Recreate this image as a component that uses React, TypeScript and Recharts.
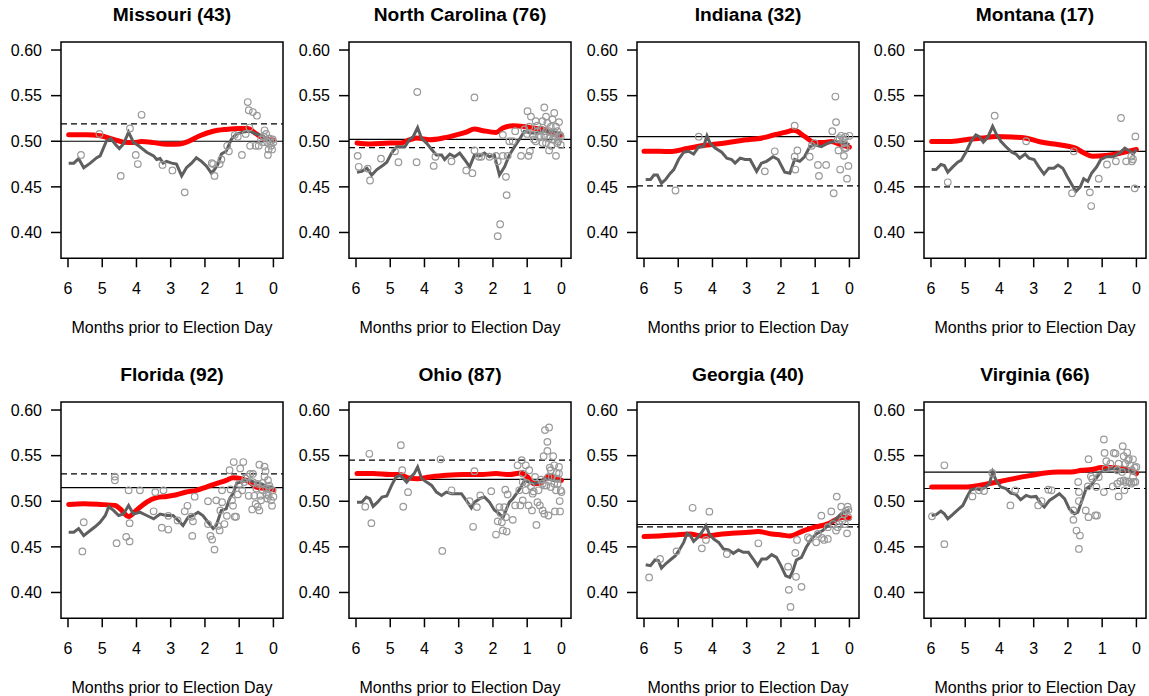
import { ComposedChart, Scatter, Line, XAxis, YAxis, ReferenceLine, ReferenceArea } from "recharts"

// months before election day, vote share
const X_TICKS = [0, 1, 2, 3, 4, 5, 6]
const Y_TICKS = [0.4, 0.45, 0.5, 0.55, 0.6]
const X_DOMAIN: [number, number] = [-0.28, 6.204]
const Y_DOMAIN: [number, number] = [0.3717, 0.6088]
const X_LABEL = "Months prior to Election Day"

const TITLES = [
  "Missouri (43)", "North Carolina (76)", "Indiana (32)", "Montana (17)",
  "Florida (92)", "Ohio (87)", "Georgia (40)", "Virginia (66)",
]
const SOLID = [0.5, 0.502, 0.505, 0.489, 0.515, 0.524, 0.4745, 0.532]
const DASHED = [0.519, 0.493, 0.451, 0.45, 0.53, 0.545, 0.472, 0.514]

const moPolls = [
  [5.62, .485], [5.08, .508], [4.46, .462], [4.19, .514], [4.02, .485], [3.96, .475], [3.85, .529], [3.24, .474],
  [2.95, .468], [2.59, .444], [1.76, .475], [1.72, .462], [1.8, .476], [1.57, .475], [1.52, .48], [1.35, .495],
  [1.3, .489], [1.13, .507], [1.04, .505], [0.92, .485], [0.81, .508], [0.75, .543], [0.72, .534], [0.7, .515],
  [0.68, .495], [0.6, .532], [0.52, .495], [0.48, .528], [0.43, .495], [0.36, .502], [0.31, .499], [0.26, .512],
  [0.21, .508], [0.18, .499], [0.16, .485], [0.14, .491], [0.12, .503], [0.09, .5], [0.07, .495], [0.04, .491],
  [0.02, .502], [0, .499], [0.28, .505],
]
const moTrend = [
  [5.98, .476], [5.83, .476], [5.69, .481], [5.54, .471], [5.35, .476], [5.16, .482], [5.06, .484], [4.88, .5],
  [4.75, .503], [4.6, .496], [4.5, .492], [4.38, .497], [4.23, .51], [4.09, .499], [3.94, .495], [3.7, .488],
  [3.5, .484], [3.41, .48], [3.31, .481], [3.22, .476], [3.12, .478], [2.97, .476], [2.83, .475], [2.68, .462],
  [2.54, .471], [2.39, .476], [2.25, .482], [2.1, .478], [1.96, .473], [1.81, .465], [1.72, .469], [1.62, .475],
  [1.52, .486], [1.38, .489], [1.23, .502], [1.09, .508], [0.89, .51], [0.7, .511], [0.5, .508], [0.31, .506],
  [0.16, .502], [0.07, .5], [0, .502],
]
const moForecast = [
  [5.98, .507], [5.45, .507], [5.06, .506], [4.67, .502], [4.38, .499], [4.09, .4985], [3.85, .4996], [3.5, .4985],
  [3.12, .4967], [2.73, .497], [2.54, .499], [2.15, .506], [1.76, .511], [1.38, .513], [0.99, .514], [0.75, .514],
  [0.5, .508], [0.26, .503], [0, .5015],
]

const ncPolls = [
  [5.95, .484], [5.92, .472], [5.66, .47], [5.59, .457], [5.27, .481], [4.86, .489], [4.76, .477], [4.21, .554],
  [4.23, .477], [3.73, .473], [3.68, .483], [3.21, .478], [2.78, .468], [2.6, .465], [2.54, .548], [2.54, .49],
  [2.41, .483], [2.34, .483], [2.1, .483], [1.91, .484], [1.86, .478], [1.86, .396], [1.79, .409], [1.71, .484],
  [1.71, .507], [1.62, .461], [1.6, .441], [1.57, .484], [1.52, .5], [1.42, .5], [1.35, .511], [1.18, .484],
  [1.08, .513], [0.99, .533], [0.96, .484], [0.94, .516], [0.92, .489], [0.89, .527], [0.84, .507], [0.8, .502],
  [0.75, .522], [0.75, .5], [0.7, .517], [0.7, .511], [0.65, .505], [0.6, .513], [0.55, .498], [0.55, .522],
  [0.5, .537], [0.5, .506], [0.45, .498], [0.45, .511], [0.45, .527], [0.41, .52], [0.36, .49], [0.36, .511],
  [0.36, .503], [0.31, .516], [0.26, .524], [0.26, .502], [0.21, .531], [0.21, .502], [0.21, .51], [0.16, .484],
  [0.16, .516], [0.16, .505], [0.12, .511], [0.12, .498], [0.07, .521], [0.05, .507], [0.02, .496], [0.02, .505],
  [0.1, .5], [0.3, .495], [0.6, .505], [1.0, .508],
]
const ncTrend = [
  [5.97, .466], [5.83, .467], [5.68, .4705], [5.54, .463], [5.39, .469], [5.2, .474], [5.1, .477], [4.96, .487],
  [4.81, .494], [4.57, .494], [4.44, .502], [4.33, .505], [4.2, .515], [4.09, .5035], [3.94, .498], [3.79, .491],
  [3.65, .485], [3.5, .485], [3.41, .48], [3.26, .486], [3.12, .483], [2.97, .487], [2.83, .48], [2.68, .472],
  [2.54, .485], [2.39, .484], [2.25, .487], [2.1, .483], [1.96, .485], [1.81, .463], [1.66, .472], [1.52, .485],
  [1.37, .494], [1.23, .502], [1.08, .511], [0.89, .509], [0.7, .509], [0.5, .511], [0.26, .511], [0.12, .509],
  [0, .507],
]
const ncForecast = [
  [5.97, .498], [5.59, .497], [5.0, .498], [4.71, .498], [4.42, .5017], [4.23, .5035], [3.84, .5017], [3.46, .5035],
  [3.07, .507], [2.78, .51], [2.54, .5134], [2.29, .5116], [1.91, .5097], [1.71, .5145], [1.42, .517], [1.13, .5163],
  [0.84, .5145], [0.55, .5134], [0.26, .509], [0, .5068],
]

const inPolls = [
  [5.08, .446], [4.4, .505], [2.47, .467], [2.18, .489], [1.6, .517], [1.6, .483], [1.58, .469], [1.52, .49],
  [1.16, .483], [1.1, .495], [0.92, .474], [0.89, .462], [0.68, .474], [0.5, .511], [0.46, .443], [0.41, .549],
  [0.39, .521], [0.32, .49], [0.27, .469], [0.24, .506], [0.16, .484], [0.15, .498], [0.12, .505], [0.07, .459],
  [0.03, .473], [0, .506], [0.1, .4925], [0.19, .502], [1.02, .498], [0.29, .5035], [0.15, .4925], [0.34, .502],
]
const inTrend = [
  [5.95, .458], [5.81, .458], [5.71, .463], [5.61, .463], [5.49, .454], [5.37, .458], [5.23, .465], [5.13, .469],
  [4.99, .48], [4.84, .488], [4.7, .489], [4.55, .486], [4.4, .494], [4.26, .494], [4.16, .506], [4.07, .498],
  [3.92, .4925], [3.73, .488], [3.58, .4815], [3.44, .48], [3.34, .476], [3.19, .4815], [3.05, .48], [2.9, .48],
  [2.71, .467], [2.57, .476], [2.42, .478], [2.23, .483], [2.08, .48], [1.89, .466], [1.74, .465], [1.6, .48],
  [1.45, .478], [1.31, .483], [1.16, .494], [1.02, .496], [0.82, .494], [0.63, .498], [0.44, .5], [0.24, .499],
  [0.1, .498], [0, .496],
]
const inForecast = [
  [6.0, .489], [5.56, .489], [5.18, .4888], [4.79, .4917], [4.4, .4946], [4.02, .4963], [3.63, .498], [3.15, .5009],
  [2.76, .5024], [2.47, .5042], [2.18, .5072], [1.89, .5097], [1.62, .512], [1.31, .5053], [1.02, .4987], [0.73, .4987],
  [0.53, .4998], [0.24, .4961], [0, .4936],
]

const mtPolls = [
  [5.51, .455], [4.14, .528], [3.22, .5], [1.88, .443], [1.83, .489], [1.36, .444], [1.32, .429], [1.1, .459],
  [0.86, .4745], [0.6, .478], [0.45, .5255], [0.3, .478], [0.13, .478], [0.1, .4804], [0.05, .4484], [0.03, .5053],
  [0.15, .4833],
]
const mtTrend = [
  [5.98, .469], [5.85, .469], [5.71, .4745], [5.61, .4734], [5.51, .466], [5.37, .4716], [5.22, .477], [5.12, .479],
  [4.98, .488], [4.83, .5], [4.69, .507], [4.59, .505], [4.47, .499], [4.34, .5046], [4.2, .5163], [4.08, .507],
  [3.96, .5], [3.81, .494], [3.64, .488], [3.52, .486], [3.41, .4815], [3.25, .486], [3.14, .4815], [2.99, .48],
  [2.85, .472], [2.7, .464], [2.56, .4705], [2.41, .4705], [2.29, .474], [2.15, .4705], [2.03, .462], [1.88, .452],
  [1.77, .445], [1.64, .45], [1.54, .459], [1.42, .456], [1.31, .465], [1.16, .472], [1.04, .48], [0.87, .483],
  [0.68, .483], [0.49, .487], [0.34, .4925], [0.19, .489], [0.1, .486], [0, .491],
]
const mtForecast = [
  [5.98, .4998], [5.47, .4998], [4.98, .5017], [4.5, .5035], [4.11, .5053], [3.63, .5046], [3.24, .5035], [2.85, .4998],
  [2.46, .4972], [2.07, .495], [1.78, .4925], [1.54, .4873], [1.29, .4836], [0.9, .4844], [0.51, .4866], [0.22, .4892],
  [0, .491],
]

const flPolls = [
  [5.54, .477], [5.58, .445], [4.63, .527], [4.63, .523], [4.58, .454], [4.3, .461], [4.23, .512], [4.2, .476],
  [4.2, .456], [3.9, .512], [3.5, .489], [3.45, .51], [3.21, .512], [3.26, .471], [3.07, .469], [3.07, .484],
  [2.8, .479], [2.59, .489], [2.51, .495], [2.37, .462], [2.35, .478], [2.3, .505], [2.39, .483], [1.91, .5],
  [1.91, .475], [1.84, .462], [1.79, .458], [1.72, .447], [1.67, .501], [1.62, .473], [1.57, .468], [1.55, .49],
  [1.5, .512], [1.5, .499], [1.43, .475], [1.36, .484], [1.28, .534], [1.25, .513], [1.21, .501], [1.18, .495],
  [1.16, .543], [1.13, .483], [1.09, .483], [1.04, .5075], [0.97, .536], [0.91, .512], [0.88, .543], [0.82, .525],
  [0.75, .527], [0.72, .506], [0.68, .53], [0.62, .491], [0.56, .506], [0.52, .497], [0.5, .514], [0.46, .494],
  [0.41, .54], [0.41, .49], [0.38, .506], [0.31, .52], [0.26, .538], [0.23, .533], [0.21, .514], [0.18, .503],
  [0.16, .523], [0.14, .506], [0.1, .514], [0.07, .501], [0.04, .495], [0.02, .512], [0, .505], [0.6, .521],
  [0.31, .512], [0.26, .527], [0.46, .519], [0.85, .521], [1.0, .519], [0.21, .508], [0.36, .501], [0.12, .517],
  [0.6, .53],
]
const flTrend = [
  [5.98, .466], [5.83, .466], [5.69, .47], [5.54, .4624], [5.35, .468], [5.2, .4723], [5.06, .477], [4.91, .4844],
  [4.81, .494], [4.67, .49], [4.52, .4844], [4.38, .486], [4.23, .4954], [4.09, .486], [3.9, .488], [3.7, .4844],
  [3.5, .4807], [3.31, .486], [3.12, .4844], [2.93, .4844], [2.73, .477], [2.64, .4734], [2.49, .4826], [2.35, .4844],
  [2.2, .488], [2.06, .4844], [1.91, .477], [1.76, .47], [1.67, .4734], [1.52, .49], [1.38, .4917], [1.28, .5028],
  [1.18, .5083], [1.07, .52], [0.94, .521], [0.75, .5237], [0.56, .521], [0.36, .5193], [0.16, .5156], [0, .5149],
]
const flForecast = [
  [5.98, .4965], [5.54, .4972], [5.06, .4965], [4.62, .4954], [4.48, .4917], [4.23, .4833], [3.99, .4906], [3.7, .4991],
  [3.41, .5039], [3.12, .5053], [2.83, .5072], [2.54, .5101], [2.25, .5119], [1.96, .5156], [1.67, .5193], [1.38, .5229],
  [1.18, .5259], [0.94, .5248], [0.7, .5211], [0.5, .5156], [0.21, .5138], [0, .5127],
]

const ohPolls = [
  [5.73, .494], [5.61, .552], [5.55, .476], [4.69, .5615], [4.65, .534], [4.62, .494], [4.48, .51], [3.53, .546],
  [3.48, .4455], [3.21, .512], [2.58, .472], [2.54, .533], [2.47, .4936], [2.68, .5], [2.37, .5064], [2.05, .511],
  [1.91, .4635], [1.86, .478], [1.81, .4936], [1.78, .487], [1.74, .477], [1.71, .468], [1.67, .4936], [1.64, .5127],
  [1.62, .4826], [1.6, .4668], [1.57, .5075], [1.42, .4796], [1.35, .4954], [1.28, .5394], [1.23, .512], [1.2, .4954],
  [1.16, .545], [1.13, .5303], [1.13, .501], [1.04, .5394], [1.02, .52], [0.96, .4954], [0.94, .534], [0.89, .5163],
  [0.86, .49], [0.81, .5108], [0.77, .5266], [0.73, .474], [0.7, .499], [0.67, .512], [0.63, .4954], [0.6, .5237],
  [0.55, .49], [0.52, .5494], [0.5, .4862], [0.48, .578], [0.44, .5174], [0.41, .5651], [0.41, .5552], [0.38, .4844],
  [0.36, .5809], [0.34, .5369], [0.31, .5156], [0.28, .5266], [0.24, .5494], [0.21, .5394], [0.19, .4888], [0.16, .512],
  [0.14, .531], [0.11, .5193], [0.07, .5376], [0.05, .5002], [0.04, .4888], [0.02, .512], [0, .5101], [0.21, .5193],
  [0.12, .5248], [0.38, .5266], [0.55, .5193], [1.04, .512], [1.13, .5211], [0.5, .5174], [0.07, .5303], [0.31, .534],
  [0.84, .5083],
]
const ohTrend = [
  [5.97, .499], [5.83, .499], [5.7, .5046], [5.6, .5028], [5.5, .4943], [5.37, .499], [5.24, .5046], [5.1, .5057],
  [4.96, .5174], [4.83, .5266], [4.71, .5284], [4.61, .5248], [4.52, .521], [4.4, .5266], [4.3, .5303], [4.2, .5376],
  [4.08, .5248], [3.94, .521], [3.79, .5174], [3.65, .5101], [3.5, .5064], [3.36, .5101], [3.21, .5083], [3.07, .5083],
  [2.92, .5083], [2.78, .5009], [2.63, .4927], [2.54, .499], [2.39, .5028], [2.25, .5046], [2.1, .499], [1.96, .4905],
  [1.81, .4862], [1.71, .4818], [1.62, .49], [1.52, .499], [1.42, .5028], [1.28, .5101], [1.18, .5156], [1.08, .5229],
  [0.94, .521], [0.8, .5193], [0.65, .521], [0.45, .5248], [0.26, .5229], [0.12, .5222], [0, .5229],
]
const ohForecast = [
  [5.97, .5303], [5.5, .5303], [5.0, .5292], [4.71, .5292], [4.46, .5255], [4.21, .5248], [3.84, .5266], [3.36, .5284],
  [2.87, .5292], [2.39, .5292], [1.91, .5303], [1.52, .5292], [1.18, .531], [0.99, .5266], [0.8, .5193], [0.6, .52],
  [0.41, .5266], [0.26, .5273], [0.12, .5248], [0, .5229],
]

const gaPolls = [
  [5.85, .4165], [5.53, .4367], [5.05, .4451], [4.58, .4928], [4.31, .4484], [4.19, .4576], [4.09, .4886], [3.58, .4422],
  [2.66, .4539], [1.79, .4283], [1.77, .4029], [1.72, .3842], [1.56, .4172], [1.58, .4433], [1.53, .4576], [1.4, .4062],
  [1.16, .4587], [0.97, .455], [0.82, .4842], [0.8, .4598], [0.74, .4576], [0.63, .4587], [0.53, .4889], [0.48, .475],
  [0.39, .4679], [0.37, .5051], [0.34, .4716], [0.24, .4941], [0.21, .4787], [0.15, .486], [0.1, .4897], [0.07, .4648],
  [0.05, .4941], [0.03, .4824], [0.03, .4905], [0.13, .475], [0.29, .475], [0.92, .4642], [0.63, .4716], [1.21, .4605],
]
const gaTrend = [
  [5.95, .4305], [5.81, .4294], [5.68, .4356], [5.58, .4349], [5.49, .4268], [5.35, .432], [5.2, .4367], [5.08, .4404],
  [4.97, .4466], [4.84, .4549], [4.74, .4649], [4.65, .4624], [4.55, .4561], [4.42, .4605], [4.31, .466], [4.19, .4734],
  [4.09, .4642], [3.97, .4587], [3.82, .4549], [3.68, .4477], [3.53, .4466], [3.39, .4429], [3.24, .4466], [3.1, .444],
  [2.95, .444], [2.81, .4367], [2.68, .4294], [2.56, .4367], [2.42, .4367], [2.27, .4415], [2.13, .4385], [2.0, .4294],
  [1.86, .4183], [1.74, .4165], [1.65, .4239], [1.55, .4356], [1.4, .4385], [1.26, .4495], [1.11, .4587], [0.97, .4642],
  [0.78, .4679], [0.58, .4752], [0.39, .4807], [0.24, .4862], [0.13, .4881], [0, .4899],
]
const gaForecast = [
  [6.0, .4613], [5.56, .462], [5.08, .4631], [4.65, .4642], [4.4, .4624], [4.26, .4617], [3.92, .4631], [3.44, .4649],
  [2.95, .466], [2.66, .4668], [2.27, .4642], [1.98, .4631], [1.74, .462], [1.4, .4668], [1.02, .4716], [0.63, .4752],
  [0.34, .4807], [0.15, .4826], [0, .4818],
]

const vaPolls = [
  [5.97, .4835], [5.61, .5394], [5.61, .453], [4.79, .5053], [4.6, .512], [4.45, .5112], [4.21, .531], [3.68, .4954],
  [3.54, .512], [2.87, .4954], [2.77, .5002], [2.57, .5127], [2.48, .512], [1.84, .49], [1.84, .4796], [1.75, .4679],
  [1.65, .4624], [1.68, .4477], [1.7, .5211], [1.68, .5101], [1.68, .5002], [1.48, .49], [1.42, .5163], [1.4, .4826],
  [1.33, .5273], [1.2, .4844], [1.4, .5461], [1.17, .5156], [0.95, .5677], [0.93, .553], [0.95, .5101], [0.88, .5439],
  [0.76, .5413], [0.69, .5163], [0.66, .553], [0.61, .5523], [0.56, .534], [0.52, .5053], [0.47, .5218], [0.4, .5604],
  [0.37, .5494], [0.35, .512], [0.32, .5413], [0.27, .5534], [0.24, .5218], [0.22, .5468], [0.2, .5211], [0.18, .5394],
  [0.15, .5193], [0.13, .534], [0.1, .5266], [0.08, .5211], [0.05, .5369], [0.03, .5211], [0, .5376], [0.32, .5211],
  [0.42, .5321], [0.52, .5413], [0.56, .5193], [0.9, .5358], [1.1, .5266], [1.29, .5248], [0.24, .545], [0.37, .5229],
  [1.15, .4844], [0.1, .546],
]
const vaTrend = [
  [5.98, .4844], [5.85, .4853], [5.71, .4892], [5.61, .4862], [5.51, .4807], [5.37, .4853], [5.22, .4906], [5.07, .4954],
  [4.95, .5046], [4.83, .5127], [4.7, .5138], [4.58, .5127], [4.43, .5149], [4.29, .5193], [4.2, .5321], [4.1, .5229],
  [3.96, .5156], [3.81, .5138], [3.67, .509], [3.52, .5075], [3.38, .5017], [3.22, .5064], [3.08, .5046], [2.93, .5053],
  [2.79, .4972], [2.69, .4936], [2.54, .5009], [2.39, .5046], [2.25, .5083], [2.1, .5028], [1.96, .4917], [1.81, .4862],
  [1.71, .488], [1.59, .5009], [1.47, .5138], [1.33, .5174], [1.18, .5248], [1.04, .5321], [0.85, .5347], [0.66, .5358],
  [0.47, .5347], [0.27, .534], [0.13, .5321], [0, .5295],
]
const vaForecast = [
  [5.98, .5156], [5.47, .5156], [4.98, .5156], [4.6, .5174], [4.21, .52], [3.83, .5229], [3.44, .5259], [3.06, .5284],
  [2.67, .531], [2.28, .5321], [1.9, .5321], [1.6, .5339], [1.31, .5347], [1.02, .5369], [0.73, .5369], [0.44, .5358],
  [0.22, .534], [0, .5303],
]

const POLLS = [moPolls, ncPolls, inPolls, mtPolls, flPolls, ohPolls, gaPolls, vaPolls]
const TRENDS = [moTrend, ncTrend, inTrend, mtTrend, flTrend, ohTrend, gaTrend, vaTrend]
const FORECASTS = [moForecast, ncForecast, inForecast, mtForecast, flForecast, ohForecast, gaForecast, vaForecast]

const FONT = "'Liberation Sans', Arial, Helvetica, sans-serif"
const COL_LEFT = [0, 288, 576, 863]
const ROW_TOP = [0, 359.5]

const toRows = (a: number[][]) => a.map(([x, y]) => ({ x, y }))

const Ring = (p: any) => (
  <circle cx={p.cx} cy={p.cy} r={3.3} fill="none" stroke="#999999" strokeWidth={1.2} />
)

function Panel({ idx }: { idx: number }) {
  const tickFont = { fontFamily: FONT, fontSize: 16, fill: "#000" }
  const tickLine = { stroke: "#000", strokeWidth: 1.5 }
  return (
    <ComposedChart width={286} height={336} margin={{ top: 42, right: 3, bottom: 37.7, left: 0 }}>
      <XAxis
        type="number"
        dataKey="x"
        domain={X_DOMAIN}
        ticks={X_TICKS}
        reversed
        allowDataOverflow
        interval={0}
        height={40}
        axisLine={false}
        tickLine={tickLine}
        tickSize={9}
        tickMargin={15}
        tick={tickFont}
        label={{ value: X_LABEL, position: "bottom", offset: 23.3, ...tickFont }}
      />
      <YAxis
        type="number"
        dataKey="y"
        domain={Y_DOMAIN}
        ticks={Y_TICKS}
        allowDataOverflow
        interval={0}
        width={61}
        axisLine={false}
        tickLine={tickLine}
        tickSize={10}
        tickMargin={9}
        tick={tickFont}
        tickFormatter={(v: number) => v.toFixed(2)}
      />
      <ReferenceLine y={DASHED[idx]} stroke="#000" strokeWidth={1.2} strokeDasharray="6 4" />
      <ReferenceLine y={SOLID[idx]} stroke="#000" strokeWidth={1.2} />
      <Scatter data={toRows(POLLS[idx])} dataKey="y" shape={Ring} isAnimationActive={false} />
      <Line
        data={toRows(FORECASTS[idx])}
        dataKey="y"
        type="monotone"
        stroke="#ff0000"
        strokeWidth={5}
        strokeLinecap="round"
        dot={false}
        isAnimationActive={false}
      />
      <Line
        data={toRows(TRENDS[idx])}
        dataKey="y"
        type="linear"
        stroke="#5f5f5f"
        strokeWidth={3}
        dot={false}
        isAnimationActive={false}
      />
      <ReferenceArea
        x1={X_DOMAIN[0]}
        x2={X_DOMAIN[1]}
        y1={Y_DOMAIN[0]}
        y2={Y_DOMAIN[1]}
        ifOverflow="visible"
        fill="none"
        stroke="#000"
        strokeWidth={1.5}
        label={{
          value: TITLES[idx],
          position: "top",
          offset: 21.3,
          fontFamily: FONT,
          fontSize: 19.2,
          fontWeight: "bold",
          fill: "#000",
        }}
      />
    </ComposedChart>
  )
}

export default function App() {
  return (
    <div style={{ position: "absolute", left: 0, top: 0, width: 1149, height: 696, background: "#fff", overflow: "hidden" }}>
      {TITLES.map((_, i) => (
        <div
          key={i}
          style={{ position: "absolute", left: COL_LEFT[i % 4], top: ROW_TOP[Math.floor(i / 4)], width: 286, height: 336 }}
        >
          <Panel idx={i} />
        </div>
      ))}
    </div>
  )
}
